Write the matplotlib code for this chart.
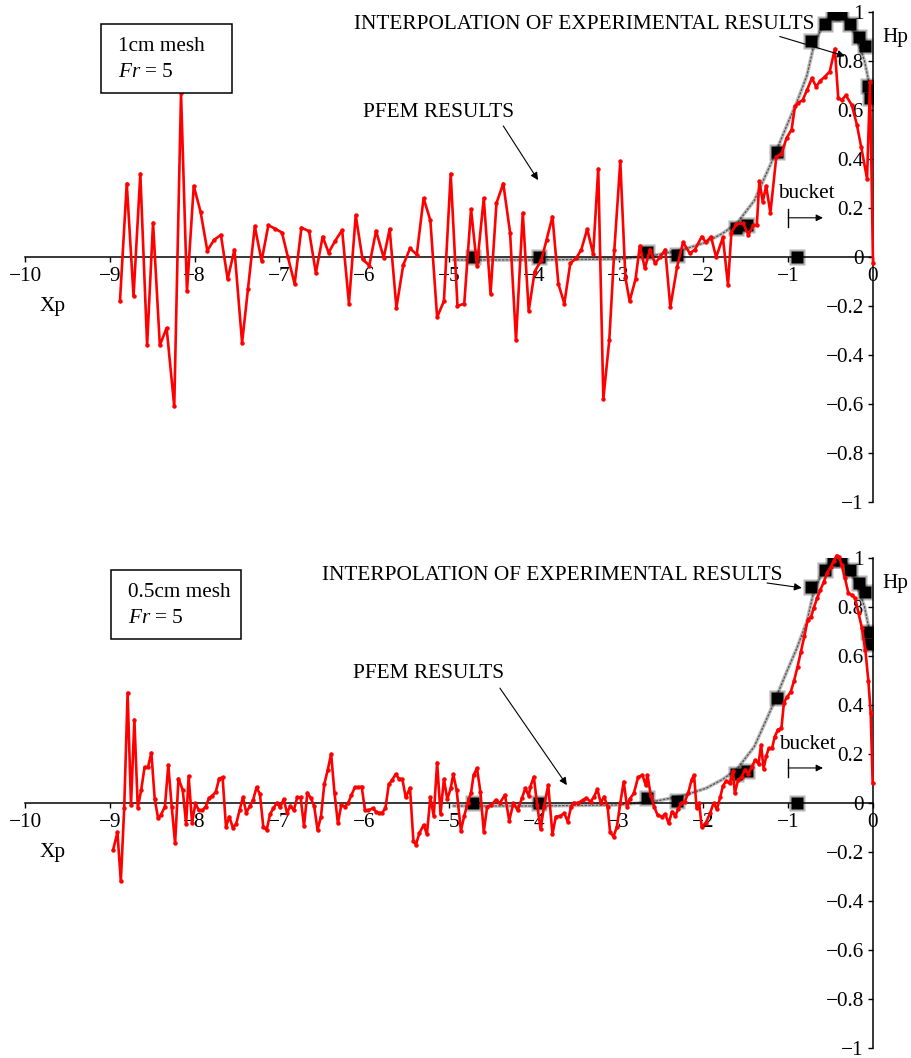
import matplotlib
matplotlib.use("Agg")
import matplotlib.pyplot as plt
from matplotlib.patches import Rectangle
from matplotlib.ticker import FuncFormatter

plt.rcParams['font.family'] = ['Liberation Serif', 'DejaVu Serif']
plt.rcParams['mathtext.fontset'] = 'custom'
plt.rcParams['mathtext.rm'] = 'Liberation Serif'
plt.rcParams['mathtext.it'] = 'Liberation Serif:italic'

# PFEM results, 1cm mesh (top panel)
pfem_1cm_x = [-8.88, -8.80, -8.72, -8.64, -8.56, -8.49, -8.41, -8.33, -8.24, -8.16,
              -8.09, -8.01, -7.93, -7.85, -7.77, -7.69, -7.61, -7.53, -7.44, -7.37,
              -7.29, -7.21, -7.13, -7.05, -6.97, -6.90, -6.82, -6.74, -6.65, -6.57,
              -6.49, -6.42, -6.34, -6.26, -6.18, -6.10, -6.02, -5.94, -5.86, -5.77,
              -5.70, -5.62, -5.54, -5.46, -5.38, -5.30, -5.22, -5.14, -5.06, -4.98,
              -4.90, -4.82, -4.74, -4.67, -4.59, -4.51, -4.44, -4.36, -4.28, -4.21,
              -4.13, -4.06, -3.99, -3.91, -3.85, -3.78, -3.71, -3.64, -3.57, -3.50,
              -3.44, -3.37, -3.30, -3.24, -3.18, -3.11, -3.05, -2.98, -2.92, -2.87,
              -2.80, -2.75, -2.69, -2.63, -2.57, -2.51, -2.45, -2.39, -2.31, -2.24,
              -2.16, -2.10, -2.02, -1.97, -1.91, -1.85, -1.77, -1.71, -1.67, -1.61,
              -1.53, -1.47, -1.41, -1.37, -1.34, -1.30, -1.26, -1.21, -1.14, -1.08,
              -1.02, -0.96, -0.92, -0.88, -0.83, -0.78, -0.72, -0.67, -0.62, -0.57,
              -0.51, -0.45, -0.41, -0.37, -0.32, -0.25, -0.19, -0.14, -0.07, -0.035,
              0.0]
pfem_1cm_y = [-0.18, 0.30, -0.16, 0.34, -0.36, 0.14, -0.36, -0.29, -0.61, 0.67,
              -0.14, 0.29, 0.185, 0.026, 0.07, 0.09, -0.09, 0.03, -0.35, -0.13,
              0.125, -0.016, 0.13, 0.115, 0.10, 0.0, -0.11, 0.12, 0.105, -0.065,
              0.083, 0.018, 0.067, 0.11, -0.19, 0.17, -0.008, -0.035, 0.107, -0.003,
              0.114, -0.207, -0.033, 0.035, 0.01, 0.24, 0.15, -0.246, -0.18, 0.34,
              -0.20, -0.19, 0.195, -0.037, 0.24, -0.15, 0.22, 0.30, 0.10, -0.34,
              0.18, -0.22, -0.06, -0.012, 0.07, 0.165, -0.11, -0.19, -0.026, -0.005,
              0.03, 0.114, 0.012, 0.36, -0.58, -0.34, 0.03, 0.39, -0.084, -0.18,
              -0.09, 0.045, -0.046, 0.03, -0.026, 0.0, 0.03, -0.205, -0.04, 0.06,
              0.015, 0.03, 0.083, 0.06, 0.083, -0.001, 0.08, -0.115, 0.10, 0.135,
              0.137, 0.09, 0.13, 0.13, 0.31, 0.226, 0.29, 0.18, 0.41, 0.42,
              0.485, 0.52, 0.615, 0.63, 0.64, 0.68, 0.73, 0.695, 0.72, 0.735,
              0.757, 0.85, 0.65, 0.64, 0.66, 0.62, 0.54, 0.45, 0.32, 0.715,
              -0.025]

# PFEM results, 0.5cm mesh (bottom panel)
pfem_05_x = [-8.96, -8.91, -8.87, -8.83, -8.79, -8.75, -8.71, -8.67, -8.63, -8.59,
             -8.55, -8.51, -8.47, -8.43, -8.40, -8.35, -8.31, -8.27, -8.23, -8.19,
             -8.14, -8.10, -8.07, -8.03, -7.99, -7.95, -7.91, -7.87, -7.83, -7.79,
             -7.75, -7.71, -7.67, -7.63, -7.59, -7.55, -7.51, -7.47, -7.43, -7.39,
             -7.35, -7.31, -7.27, -7.23, -7.19, -7.15, -7.11, -7.07, -7.03, -6.99,
             -6.95, -6.91, -6.87, -6.83, -6.79, -6.75, -6.71, -6.67, -6.63, -6.59,
             -6.55, -6.51, -6.47, -6.43, -6.39, -6.35, -6.31, -6.27, -6.23, -6.19,
             -6.15, -6.11, -6.07, -6.03, -5.99, -5.95, -5.90, -5.86, -5.83, -5.79,
             -5.75, -5.71, -5.67, -5.63, -5.59, -5.55, -5.51, -5.46, -5.42, -5.39,
             -5.35, -5.30, -5.26, -5.22, -5.18, -5.14, -5.10, -5.06, -5.02, -4.98,
             -4.95, -4.91, -4.86, -4.82, -4.78, -4.74, -4.71, -4.67, -4.63, -4.59,
             -4.55, -4.50, -4.45, -4.40, -4.34, -4.29, -4.24, -4.19, -4.14, -4.10,
             -4.06, -4.04, -4.00, -3.96, -3.92, -3.88, -3.83, -3.78, -3.74, -3.69,
             -3.64, -3.60, -3.56, -3.53, -3.48, -3.42, -3.38, -3.33, -3.29, -3.25,
             -3.21, -3.17, -3.13, -3.10, -3.06, -3.02, -2.98, -2.94, -2.90, -2.87,
             -2.82, -2.77, -2.72, -2.68, -2.66, -2.62, -2.58, -2.54, -2.49, -2.45,
             -2.41, -2.37, -2.33, -2.30, -2.26, -2.22, -2.18, -2.14, -2.11, -2.08,
             -2.05, -2.02, -1.97, -1.92, -1.88, -1.84, -1.80, -1.77, -1.73, -1.69,
             -1.65, -1.63, -1.59, -1.55, -1.51, -1.47, -1.43, -1.39, -1.35, -1.32,
             -1.29, -1.26, -1.23, -1.19, -1.16, -1.12, -1.08, -1.05, -1.01, -0.97,
             -0.93, -0.89, -0.85, -0.81, -0.77, -0.73, -0.70, -0.66, -0.62, -0.58,
             -0.54, -0.50, -0.46, -0.43, -0.40, -0.37, -0.33, -0.29, -0.25, -0.21,
             -0.17, -0.13, -0.09, -0.055, -0.027, -0.004]
pfem_05_y = [-0.19, -0.12, -0.32, -0.02, 0.45, -0.008, 0.34, -0.02, 0.053, 0.146,
             0.146, 0.205, 0.015, -0.063, -0.05, -0.015, 0.155, -0.015, -0.165, 0.10,
             0.053, -0.086, 0.11, -0.08, -0.001, -0.03, -0.03, -0.015, 0.02, 0.03,
             0.046, 0.10, 0.105, -0.097, -0.056, -0.10, -0.086, -0.03, 0.023, -0.04,
             -0.013, 0.012, 0.064, 0.037, -0.097, -0.11, -0.045, -0.022, 0.001, -0.018,
             0.015, -0.04, -0.012, -0.03, 0.023, 0.023, -0.094, 0.042, 0.02, -0.012,
             -0.11, -0.056, 0.078, 0.135, 0.20, 0.04, -0.083, -0.008, -0.015, -0.001,
             0.033, 0.064, 0.064, 0.067, -0.03, -0.03, -0.022, -0.035, -0.04, -0.04,
             -0.022, 0.076, 0.094, 0.117, 0.10, 0.097, 0.023, 0.062, -0.155, -0.17,
             -0.124, -0.09, -0.127, 0.023, -0.053, 0.165, -0.045, 0.098, 0.015, 0.06,
             0.117, 0.053, -0.113, -0.053, 0.001, 0.042, 0.114, 0.142, 0.046, -0.117,
             -0.015, -0.008, 0.012, 0.0, 0.033, -0.072, 0.0, -0.03, 0.02, 0.06,
             0.03, 0.067, 0.107, -0.008, -0.107, -0.015, 0.073, -0.127, -0.056, -0.053,
             -0.042, -0.076, -0.015, 0.001, 0.0, 0.012, 0.02, 0.005, 0.026, 0.056,
             0.0, 0.026, -0.015, -0.12, -0.137, -0.097, 0.0, 0.087, -0.015, 0.015,
             0.04, 0.105, 0.114, 0.073, 0.114, 0.03, -0.015, -0.05, -0.056, -0.045,
             -0.083, -0.035, -0.053, -0.026, 0.0, 0.005, 0.04, 0.094, 0.114, -0.022,
             0.0, -0.097, -0.08, -0.04, 0.0, -0.026, 0.026, 0.07, 0.09, 0.08,
             0.13, 0.04, 0.094, 0.107, 0.135, 0.12, 0.148, 0.175, 0.16, 0.237,
             0.14, 0.19, 0.223, 0.223, 0.27, 0.30, 0.305, 0.41, 0.434, 0.454,
             0.50, 0.556, 0.617, 0.68, 0.747, 0.76, 0.795, 0.835, 0.87, 0.903,
             0.94, 0.962, 0.989, 1.01, 1.005, 0.971, 0.917, 0.856, 0.849, 0.835,
             0.774, 0.713, 0.624, 0.50, 0.366, 0.08]

# experimental points (same in both panels)
exp_x = [-4.72, -3.94, -2.67, -2.31, -1.62, -1.49, -1.13, -0.73, -0.57, -0.47,
         -0.38, -0.27, -0.17, -0.10, -0.06, -0.04, -0.90]
exp_y = [0.0, 0.0, 0.02, 0.01, 0.12, 0.13, 0.43, 0.88, 0.95, 0.99,
         0.99, 0.95, 0.90, 0.86, 0.70, 0.65, 0.0]

# interpolation of experimental results
interp_x = [-4.95, -4.0, -3.0, -2.6, -2.24, -1.97, -1.77, -1.6, -1.4, -1.18,
            -1.0, -0.9, -0.78, -0.7, -0.6, -0.45, -0.3, -0.2, -0.1, -0.04]
interp_y = [-0.012, -0.012, -0.008, 0.005, 0.03, 0.06, 0.097, 0.14, 0.23, 0.40,
            0.55, 0.63, 0.74, 0.86, 0.94, 1.0, 0.97, 0.9, 0.8, 0.7]

x_ticks = [-10, -9, -8, -7, -6, -5, -4, -3, -2, -1, 0]
y_ticks = [-1, -0.8, -0.6, -0.4, -0.2, 0, 0.2, 0.4, 0.6, 0.8, 1]

FS = 15.3


def fmt(v, pos):
    return '{:g}'.format(round(v, 2)).replace('-', '\u2212')


def draw_panel(ax, px, py, mesh, interp_txt, interp_arrow, pfem_txt, pfem_arrow,
               box, bucket_xy, bucket_y):
    ax.set_xlim(-10, 0)
    ax.set_ylim(-1, 1)
    for s in ['top', 'right']:
        ax.spines[s].set_visible(False)
    ax.spines['left'].set_position(('data', 0))
    ax.spines['bottom'].set_position(('data', 0))
    ax.spines['left'].set_linewidth(1.1)
    ax.spines['bottom'].set_linewidth(1.1)
    ax.set_xticks(x_ticks)
    ax.set_yticks(y_ticks)
    ax.xaxis.set_major_formatter(FuncFormatter(fmt))
    ax.yaxis.set_major_formatter(FuncFormatter(fmt))
    ax.tick_params(axis='x', direction='out', length=3.5, width=1, pad=4, labelsize=FS)
    ax.tick_params(axis='y', direction='out', length=3.5, width=1, pad=3, labelsize=FS)
    ax.patch.set_visible(False)

    # interpolation curve + experimental points
    ax.plot(interp_x, interp_y, color='#bbbbbb', lw=2.6, zorder=2, solid_capstyle='round')
    ax.plot(interp_x, interp_y, color='#555555', lw=0.9, ls=(0, (2, 1)), zorder=2)
    ax.plot(exp_x, exp_y, 's', color='black', ms=11, alpha=0.3, mec='none', zorder=2)
    ax.plot(exp_x, exp_y, 's', color='black', ms=8, mec='none', zorder=2)

    # PFEM line
    ax.plot(px, py, color='#ff0000', lw=1.9, marker='o', ms=2.2, zorder=3, clip_on=False)

    # text box
    ax.add_patch(Rectangle((box[0], box[1]), box[2], box[3], facecolor='white',
                           edgecolor='black', lw=1.1, zorder=5))
    ax.text(box[0] + 0.2, box[1] + 0.192, mesh, fontsize=FS, va='center', ha='left', zorder=6)
    ax.text(box[0] + 0.2, box[1] + 0.085, r'$\it{Fr}$ = 5', fontsize=FS, va='center',
            ha='left', zorder=6)

    # labels
    ax.text(interp_txt[0], interp_txt[1], 'INTERPOLATION OF EXPERIMENTAL RESULTS',
            fontsize=FS, ha='center', va='center', zorder=6)
    ax.annotate('', xy=interp_arrow[1], xytext=interp_arrow[0],
                arrowprops=dict(arrowstyle='-|>', color='black', lw=0.8,
                                mutation_scale=11, shrinkA=0, shrinkB=0), zorder=6)
    ax.text(pfem_txt[0], pfem_txt[1], 'PFEM RESULTS', fontsize=FS, ha='center',
            va='center', zorder=6)
    ax.annotate('', xy=pfem_arrow[1], xytext=pfem_arrow[0],
                arrowprops=dict(arrowstyle='-|>', color='black', lw=0.8,
                                mutation_scale=11, shrinkA=0, shrinkB=0), zorder=6)
    ax.text(bucket_xy[0], bucket_xy[1], 'bucket', fontsize=FS, ha='center', va='center',
            zorder=6)
    ax.plot([-1.0, -1.0], [bucket_y - 0.037, bucket_y + 0.037], color='black', lw=1)
    ax.annotate('', xy=(-0.59, bucket_y), xytext=(-1.0, bucket_y),
                arrowprops=dict(arrowstyle='-|>', color='black', lw=0.8,
                                mutation_scale=10, shrinkA=0, shrinkB=0))
    ax.text(-9.67, -0.2, 'Xp', fontsize=FS, ha='center', va='center')
    ax.text(0.26, 0.894, 'Hp', fontsize=FS, ha='center', va='center', clip_on=False)


fig = plt.figure(figsize=(9.12, 10.58), dpi=100)
ax1 = fig.add_axes([25 / 912, 1 - 502 / 1058, 848 / 912, 490 / 1058])
ax2 = fig.add_axes([25 / 912, 1 - 1048 / 1058, 848 / 912, 490 / 1058])

draw_panel(ax1, pfem_1cm_x, pfem_1cm_y, '1cm mesh',
           (-3.40, 0.947), ((-1.10, 0.90), (-0.33, 0.82)),
           (-5.12, 0.588), ((-4.36, 0.535), (-3.95, 0.314)),
           (-9.10, 0.669, 1.545, 0.282), (-0.79, 0.26), 0.16)
draw_panel(ax2, pfem_05_x, pfem_05_y, '0.5cm mesh',
           (-3.785, 0.927), ((-1.25, 0.898), (-0.84, 0.878)),
           (-5.24, 0.53), ((-4.40, 0.469), (-3.61, 0.073)),
           (-8.99, 0.669, 1.533, 0.282), (-0.77, 0.237), 0.143)

fig.savefig('out.png', dpi=100)
